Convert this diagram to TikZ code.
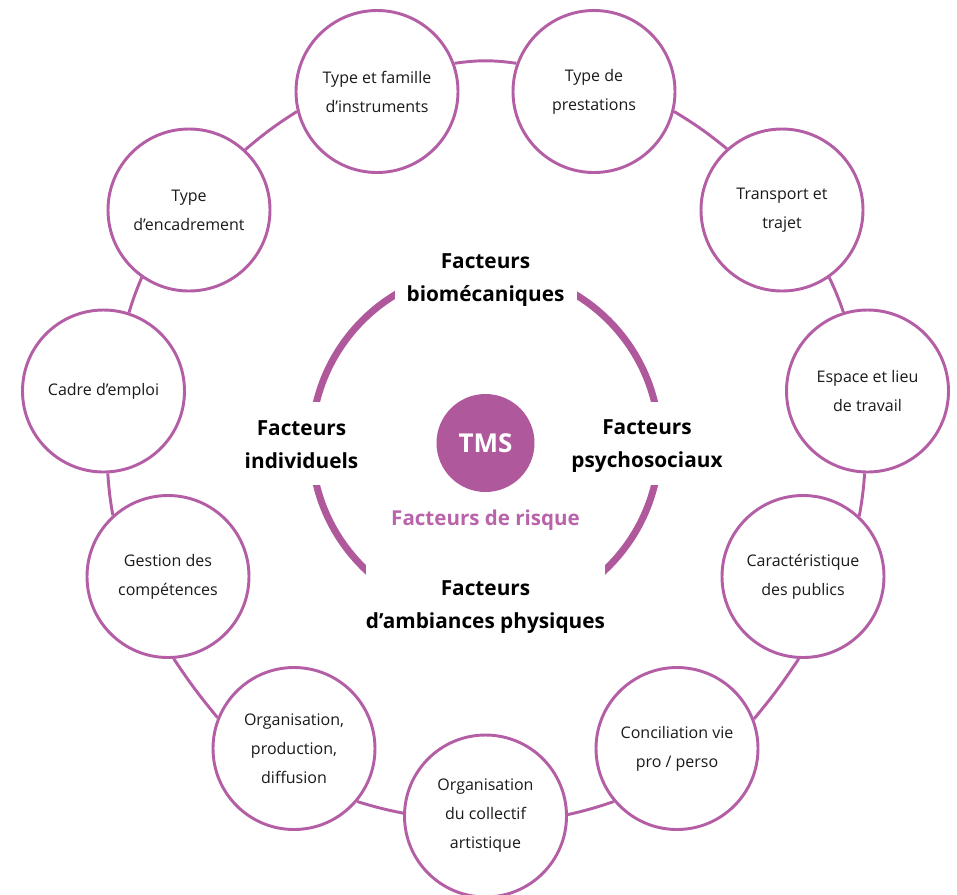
\documentclass[tikz,border=0pt]{standalone}
\usepackage{fontspec}
\setmainfont{Open Sans}
\definecolor{ring}{HTML}{B0589C}
\definecolor{circ}{HTML}{B35EA5}
\definecolor{risk}{HTML}{B964AA}
\definecolor{txt}{HTML}{1A1A1A}
\begin{document}
\begin{tikzpicture}[x=0.75pt,y=-0.75pt,
  outer/.style={circle, draw=circ, line width=2.2pt, fill=white, minimum size=121.5pt,
    inner sep=0pt, align=center, text=txt, font=\fontsize{12}{21.75}\selectfont},
  link/.style={draw=circ, line width=2.2pt},
  factor/.style={align=center, inner sep=0pt, text=black,
    font=\bfseries\fontsize{15.6}{24.75}\selectfont}]
\useasboundingbox (0,0) rectangle (957,894);

% inner ring with gaps for the four labels
\draw[ring, line width=5.25pt] (485.5,443.5) circle[radius=130.5pt];
\fill[white] (394.5,245) rectangle (577,312);
\fill[white] (366,545) rectangle (605,660);
\fill[white] (292,402) rectangle (335,485);
\fill[white] (636,402) rectangle (679,485);

% centre
\node[circle, fill=ring, minimum size=73.5pt, inner sep=0pt, text=white,
  font=\bfseries\fontsize{19.5}{22}\selectfont] (tms) at (485.5,443) {TMS};
\node[text=risk, inner sep=0pt, font=\bfseries\fontsize{15.4}{18}\selectfont] (risque) at (485.5,520) {Facteurs de risque};

\node[factor] (bio) at (485.5,280) {Facteurs\\biomécaniques};
\node[factor] (ind) at (301.5,445) {Facteurs\\individuels};
\node[factor] (psy) at (647,446) {Facteurs\\psychosociaux};
\node[factor] (amb) at (485.5,607) {Facteurs\\d’ambiances physiques};

% outer circles
\node[outer] (c1) at (377,91.5) {Type et famille\\d’instruments};
\node[outer] (c2) at (594,91.5) {Type de\\prestations};
\node[outer] (c3) at (782,210) {Transport et\\trajet};
\node[outer] (c4) at (867.5,391) {Espace et lieu\\de travail};
\node[outer] (c5) at (803,576.5) {Caractéristique\\des publics};
\node[outer] (c6) at (677,748.5) {Conciliation vie\\pro / perso};
\node[outer] (c7) at (485.5,816) {Organisation\\du collectif\\artistique};
\node[outer] (c8) at (294,748.5) {Organisation,\\production,\\diffusion};
\node[outer] (c9) at (168,576.5) {Gestion des\\compétences};
\node[outer] (c10) at (103.5,391) {Cadre d’emploi};
\node[outer] (c11) at (189,210) {Type\\d’encadrement};

% connectors
\draw[link] (c1.20) to[bend left=8] (c2.160);
\draw[link] (c2.-14.5) to[bend left=4] (c3.132.6);
\draw[link] (c3.-55.9) to[bend left=3] (c4.107.2);
\draw[link] (c4.-92.4) to[bend left=3] (c5.47.7);
\draw[link] (c5.-93.4) to[bend left=3] (c6.21.9);
\draw[link] (c6.220.8) to[bend left=3] (c7.1.4);
\draw[link] (c7.178.6) to[bend left=3] (c8.-40.8);
\draw[link] (c8.158.1) to[bend left=3] (c9.-86.6);
\draw[link] (c9.132.3) to[bend left=3] (c10.-87.6);
\draw[link] (c10.72.8) to[bend left=3] (c11.235.9);
\draw[link] (c11.47.4) to[bend left=4] (c1.194.5);
\end{tikzpicture}
\end{document}
